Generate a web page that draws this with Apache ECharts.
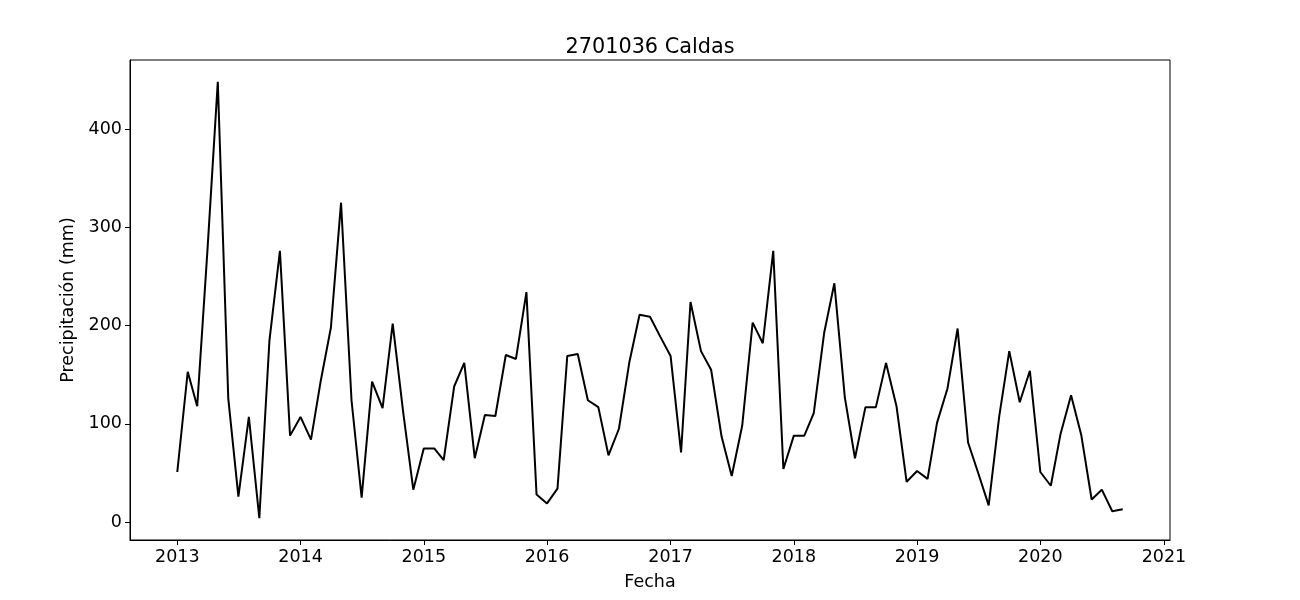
<!DOCTYPE html>
<html>
<head>
<meta charset="utf-8">
<script src="https://cdn.jsdelivr.net/npm/echarts@6/dist/echarts.min.js"></script>
<style>html,body{margin:0;padding:0;background:#fff;}#c{width:1300px;height:600px;}</style>
</head>
<body>
<div id="c"></div>
<script>
// Monthly precipitation, 2013-01 to 2020-09
const startYear = 2013, startMonth = 1;
const precip = [
  51, 153, 118, 280, 448, 126, 26, 107, 4, 185, 276, 88,
  107, 84, 142, 198, 325, 124, 25, 143, 116, 202, 112, 33,
  75, 75, 63, 138, 162, 65, 109, 108, 170, 166, 234, 28,
  19, 34, 169, 171, 124, 117, 68, 95, 163, 211, 209, 189,
  169, 71, 224, 174, 155, 87, 47, 98, 203, 182, 276, 54,
  88, 88, 111, 193, 243, 127, 65, 117, 117, 162, 118, 41,
  52, 44, 101, 136, 197, 81, 50, 17, 107, 174, 122, 154,
  51, 37, 90, 129, 89, 23, 33, 11, 13
];
const titleText = '2701036 Caldas';
const xLabel = 'Fecha';
const yLabel = 'Precipitación (mm)';
const yTicks = [0, 100, 200, 300, 400];

const data = precip.map((v, i) => {
  const m = startMonth - 1 + i;
  return [Date.UTC(startYear + Math.floor(m / 12), m % 12, 1), v];
});
const t0 = data[0][0], t1 = data[data.length - 1][0];
const xm = (t1 - t0) * 0.05;
const vmin = Math.min(...precip), vmax = Math.max(...precip);
const ym = (vmax - vmin) * 0.05;

const chart = echarts.init(document.getElementById('c'), null, {renderer: 'canvas'});
const font = 'DejaVu Sans';
chart.setOption({
  animation: false,
  backgroundColor: '#fff',
  title: {
    text: titleText, left: 'center', top: 32,
    textStyle: {fontFamily: font, fontSize: 20.8, fontWeight: 'normal', color: '#000'}
  },
  grid: {left: 130, right: 130, top: 60, bottom: 60, show: true, borderColor: '#000', borderWidth: 1},
  xAxis: {
    type: 'time',
    min: t0 - xm, max: t1 + xm,
    minInterval: 365 * 86400000, maxInterval: 366 * 86400000,
    splitNumber: 9,
    name: xLabel, nameLocation: 'middle', nameGap: 33,
    nameTextStyle: {fontFamily: font, fontSize: 17.5, color: '#000'},
    axisLine: {show: true, onZero: false, lineStyle: {color: '#000', width: 1}},
    axisTick: {show: true, inside: false, length: 5, lineStyle: {color: '#000'}},
    axisLabel: {
      fontFamily: font, fontSize: 17.5, color: '#000', margin: 8,
      showMinLabel: false, showMaxLabel: false,
      formatter: function (v) { return String(new Date(v).getUTCFullYear()); },
      hideOverlap: false
    },
    splitLine: {show: false}
  },
  yAxis: {
    type: 'value',
    min: vmin - ym, max: vmax + ym,
    name: yLabel, nameLocation: 'middle', nameGap: 49, nameRotate: 90,
    nameTextStyle: {fontFamily: font, fontSize: 17.5, color: '#000'},
    axisLine: {show: true, lineStyle: {color: '#000', width: 1}},
    axisTick: {show: true, length: 5, lineStyle: {color: '#000'}, customValues: yTicks},
    axisLabel: {
      fontFamily: font, fontSize: 17.5, color: '#000', margin: 8,
      customValues: yTicks
    },
    splitLine: {show: false}
  },
  series: [{
    type: 'line', data: data, showSymbol: false, symbol: 'none',
    lineStyle: {color: '#000', width: 2}, itemStyle: {color: '#000'}
  }]
});
</script>
</body>
</html>
